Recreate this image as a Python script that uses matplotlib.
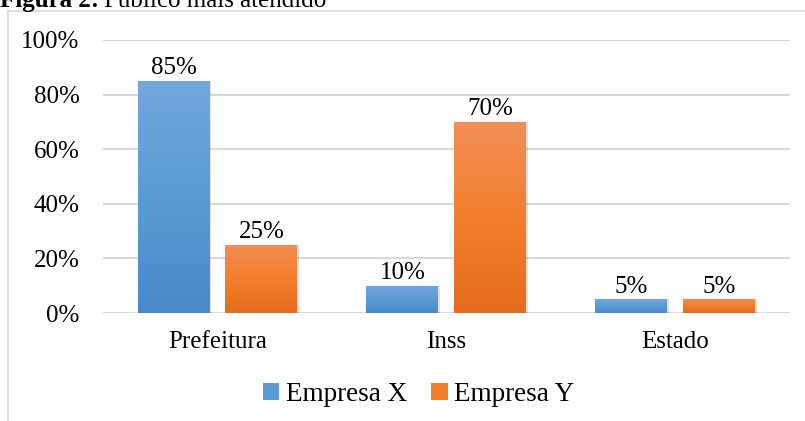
import matplotlib
matplotlib.use("Agg")
import matplotlib.pyplot as plt
import numpy as np
from matplotlib.colors import LinearSegmentedColormap
from matplotlib.lines import Line2D
from matplotlib.patches import Patch

categories = ["Prefeitura", "Inss", "Estado"]
empresa_x = [85, 10, 5]
empresa_y = [25, 70, 5]
series_names = ["Empresa X", "Empresa Y"]
yticks = [0, 20, 40, 60, 80, 100]

plt.rcParams['font.family'] = ['Liberation Serif', 'DejaVu Serif']

fig = plt.figure(figsize=(8.05, 4.21), dpi=100)
ax = fig.add_axes([0.128, 0.2565, 0.853, 0.6485])

x = np.arange(len(categories))
w = 0.314
off = 0.192

blue_cmap = LinearSegmentedColormap.from_list("b", ["#4a89c8", "#5b9bd5", "#72a8dc"])
orange_cmap = LinearSegmentedColormap.from_list("o", ["#e46c1c", "#f47e2c", "#f08f56"])

grad = np.linspace(0, 1, 256).reshape(-1, 1)

def gbar(xc, h, cmap):
    if h <= 0:
        return
    sh = plt.Rectangle((xc - w / 2 + 0.006, -0.4), w, h + 0.4, color="#000000", alpha=0.12,
                       zorder=2, linewidth=0)
    ax.add_patch(sh)
    rect = plt.Rectangle((xc - w / 2, 0), w, h, facecolor="none", edgecolor="none", zorder=3)
    ax.add_patch(rect)
    im = ax.imshow(grad, cmap=cmap, origin="lower", aspect="auto",
                   extent=(xc - w / 2, xc + w / 2, 0, h), zorder=3)
    im.set_clip_path(rect)

FS = 18
for i in range(len(categories)):
    gbar(x[i] - off, empresa_x[i], blue_cmap)
    gbar(x[i] + off, empresa_y[i], orange_cmap)
    ax.text(x[i] - off, empresa_x[i] + 0.6, f"{empresa_x[i]}%", ha="center", va="bottom", fontsize=FS)
    ax.text(x[i] + off, empresa_y[i] + 0.6, f"{empresa_y[i]}%", ha="center", va="bottom", fontsize=FS)

ax.set_xlim(-0.5, 2.5)
ax.set_ylim(0, 100)
ax.set_yticks(yticks)
ax.set_yticklabels([f"{t}%" for t in yticks], fontsize=FS)
ax.set_xticks(x)
ax.set_xticklabels(categories, fontsize=FS)
ax.tick_params(length=0, pad=17, axis="y")
ax.tick_params(length=0, pad=13, axis="x")
for s in ax.spines.values():
    s.set_visible(False)
ax.grid(axis="y", color="#d9d9d9", linewidth=1.5, zorder=0)
ax.set_axisbelow(True)

handles = [Patch(facecolor="#5b9bd5", edgecolor="none"), Patch(facecolor="#f47e2c", edgecolor="none")]
fig.legend(handles, series_names, loc="center", bbox_to_anchor=(0.52, 0.063), ncol=2, frameon=False,
           fontsize=19.5, handlelength=0.6, handleheight=0.6, handletextpad=0.25, columnspacing=0.9)

# chart frame (partially visible)
fig.add_artist(Line2D([8 / 805, 8 / 805], [0, 1 - 11 / 421], color="#d9d9d9", linewidth=1.2,
                      transform=fig.transFigure))
fig.add_artist(Line2D([8 / 805, 1], [1 - 11 / 421, 1 - 11 / 421], color="#d9d9d9", linewidth=1.2,
                      transform=fig.transFigure))

# title (cut off at top)
t1 = fig.text(0.0, 1 - 7 / 421, "Figura 2:", fontsize=FS, fontweight="bold", va="baseline", ha="left")
fig.canvas.draw()
bb = t1.get_window_extent(renderer=fig.canvas.get_renderer())
x2 = (bb.x1 + 5) / fig.bbox.width
fig.text(x2, 1 - 7 / 421, "Público mais atendido", fontsize=FS, va="baseline", ha="left")

fig.savefig("out.png", dpi=100)
